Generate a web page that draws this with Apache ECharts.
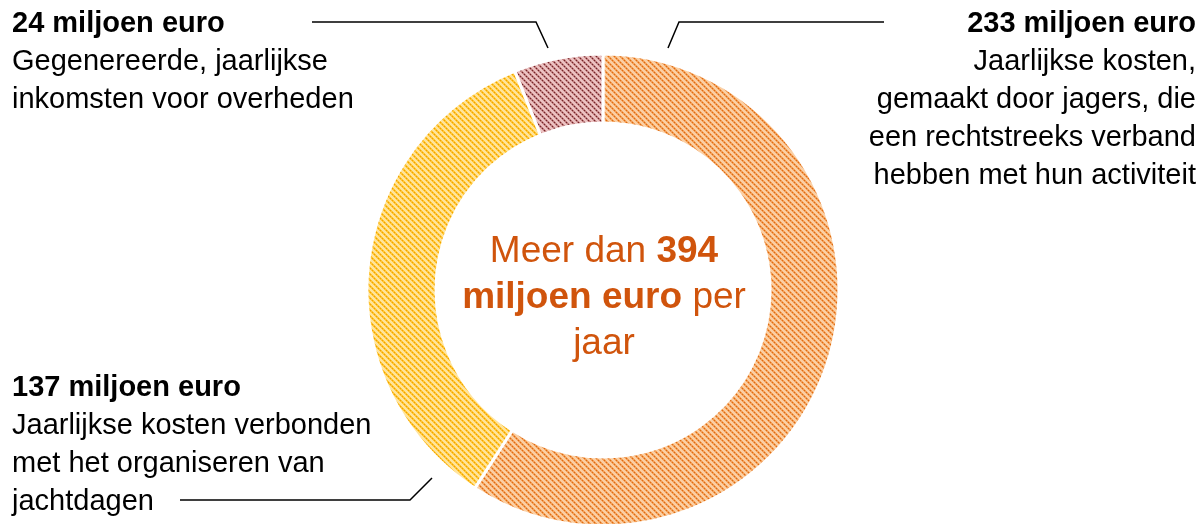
<!DOCTYPE html>
<html>
<head>
<meta charset="utf-8">
<script src="https://cdn.jsdelivr.net/npm/echarts@6/dist/echarts.min.js"></script>
<style>
  html, body { margin: 0; padding: 0; background: #fff; }
  #chart { width: 1201px; height: 524px; }
</style>
</head>
<body>
<div id="chart"></div>
<script>
// data
var categories = ["Jaarlijkse kosten jagers", "Organiseren jachtdagen", "Inkomsten overheden"];
var values = [233, 137, 24];
var descriptions = [
    ["Jaarlijkse kosten,", "gemaakt door jagers, die", "een rechtstreeks verband", "hebben met hun activiteit"],
    ["Jaarlijkse kosten verbonden", "met het organiseren van", "jachtdagen"],
    ["Gegenereerde, jaarlijkse", "inkomsten voor overheden"]
];
var unit = " miljoen euro";

// schuine arcering per segment
function hatch(bg, mid, fg) {
    var s = 6;
    var c = document.createElement("canvas");
    c.width = s; c.height = s;
    var ctx = c.getContext("2d");
    ctx.fillStyle = bg;
    ctx.fillRect(0, 0, s, s);
    for (var i = 0; i < s; i++) {
        ctx.fillStyle = mid;
        ctx.fillRect((i + 1) % s, i, 1, 1);
        ctx.fillRect((i + s - 1) % s, i, 1, 1);
        ctx.fillStyle = (i % 2 == 0) ? fg : mid;
        ctx.fillRect(i, i, 1, 1);
    }
    return { image: c, repeat: "repeat" };
}
var fills = [
    hatch("#fbd0a4", "#f29e58", "#de6c10"),
    hatch("#ffe49c", "#ffc534", "#f0a200"),
    hatch("#ecc2c2", "#c07f80", "#722428")
];

var total = values.reduce(function (a, b) { return a + b; }, 0);

var chart = echarts.init(document.getElementById("chart"));

function labelText(i) {
    var lines = ["{b|" + values[i] + unit + "}"];
    descriptions[i].forEach(function (l) { lines.push("{n|" + l + "}"); });
    return lines.join("\n");
}
function richFor(align, size, lh, color) {
    return {
        b: { fontSize: size, fontWeight: "bold", lineHeight: lh, fontFamily: "Liberation Sans", fill: color, align: align },
        n: { fontSize: size, lineHeight: lh, fontFamily: "Liberation Sans", fill: color, align: align }
    };
}

function label(i, x, y, align) {
    return {
        type: "text", z: 100,
        style: {
            x: x, y: y, text: labelText(i), align: align, verticalAlign: "top",
            rich: richFor(align, 29, 38, "#000")
        }
    };
}
function leader(points) {
    return {
        type: "polyline", z: 100,
        shape: { points: points },
        style: { stroke: "#000", lineWidth: 1.5, fill: null }
    };
}

var option = {
    animation: false,
    series: [
        {
            type: "pie",
            center: [603, 290],
            radius: [167, 236],
            startAngle: 90,
            clockwise: true,
            silent: true,
            z: 1,
            label: { show: false },
            labelLine: { show: false },
            itemStyle: { borderColor: "#fff", borderWidth: 3 },
            data: categories.map(function (c, i) {
                return { name: c, value: values[i], itemStyle: { color: fills[i] } };
            })
        }
    ],
    graphic: [
        label(2, 12, 5, "left"),
        label(0, 1196, 5, "right"),
        label(1, 12, 369, "left"),
        {
            type: "text", z: 100,
            style: {
                x: 604, y: 229, align: "center", verticalAlign: "top",
                text: "{n|Meer dan }{b|" + total + "}\n{b|miljoen euro}{n| per}\n{n|jaar}",
                rich: richFor("center", 37, 46, "#d0540c")
            }
        },
        leader([[312, 22], [536, 22], [548, 48]]),
        leader([[884, 22], [679, 22], [668, 48]]),
        leader([[180, 500], [410, 500], [432, 478]])
    ]
};
chart.setOption(option);
</script>
</body>
</html>
